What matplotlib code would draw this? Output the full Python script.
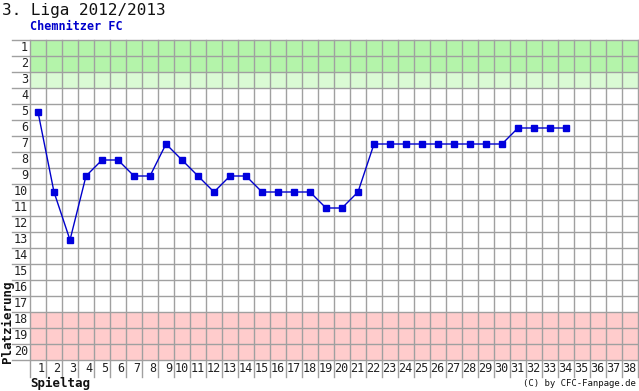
import numpy as np
import matplotlib
matplotlib.use("Agg")
import matplotlib.pyplot as plt
import matplotlib.transforms as mtransforms

# Chemnitzer FC, 3. Liga 2012/2013 - Platzierung je Spieltag
spieltage = list(range(1, 35))
platz = [5, 10, 13, 9, 8, 8, 9, 9, 7, 8, 9, 10, 9, 9, 10, 10, 10, 10, 11, 11,
         10, 7, 7, 7, 7, 7, 7, 7, 7, 7, 6, 6, 6, 6]
n_spieltage = 38
n_teams = 20
aufstieg = [1, 2]
relegation = [3]
abstieg = [18, 19, 20]

mono = "DejaVu Sans Mono"
grid_col = "#a0a0a0"

fig = plt.figure(figsize=(6.39, 3.91), dpi=100)
W, H = 639, 391
ax = fig.add_axes([30 / W, (H - 360) / H, 608 / W, 320 / H])

ax.set_xlim(0.5, n_spieltage + 0.5)
ax.set_ylim(n_teams + 0.5, 0.5)

# coloured rows
for p in aufstieg:
    ax.axhspan(p - 0.5, p + 0.5, color="#b4f4aa", lw=0, zorder=0)
for p in relegation:
    ax.axhspan(p - 0.5, p + 0.5, color="#dafad4", lw=0, zorder=0)
for p in abstieg:
    ax.axhspan(p - 0.5, p + 0.5, color="#ffcccc", lw=0, zorder=0)

# grid, extended into the label areas
trans_y = mtransforms.blended_transform_factory(ax.transAxes, ax.transData)
trans_x = mtransforms.blended_transform_factory(ax.transData, ax.transAxes)
for y in np.arange(0.5, n_teams + 1, 1):
    ax.plot([-18 / 608, 1], [y, y], transform=trans_y, color=grid_col, lw=1.0,
            clip_on=False, zorder=1)
for x in np.arange(0.5, n_spieltage + 1, 1):
    ax.plot([x, x], [-17 / 320, 1], transform=trans_x, color=grid_col, lw=1.0,
            clip_on=False, zorder=1)

# labels
for p in range(1, n_teams + 1):
    ax.text(-2 / 608, p, str(p), transform=trans_y, ha="right", va="center",
            fontsize=8.5, family=mono, color="#222222")
for s in range(1, n_spieltage + 1):
    ax.text(s + 0.42, -9 / 320, str(s), transform=trans_x, ha="right", va="center",
            fontsize=8.5, family=mono, color="#222222")

ax.plot(spieltage, platz, color="#0000cc", lw=1.0, marker="s", markersize=4,
        markerfacecolor="#0000dd", markeredgecolor="#0000dd", zorder=3)

ax.set_xticks([])
ax.set_yticks([])
for sp in ax.spines.values():
    sp.set_visible(False)

fig.text(2 / W, 1 - 11 / H, "3. Liga 2012/2013", ha="left", va="center",
         fontsize=11.5, family=mono, color="#111111")
fig.text(30 / W, 1 - 26 / H, "Chemnitzer FC", ha="left", va="center",
         fontsize=8.5, family=mono, weight="bold", color="#0000cc")
fig.text(7 / W, (H - 322) / H, "Platzierung", rotation=90, ha="center", va="center",
         fontsize=9, family=mono, weight="bold", color="#111111")
fig.text(30 / W, (H - 383) / H, "Spieltag", ha="left", va="center",
         fontsize=9, family=mono, weight="bold", color="#111111")
fig.text(636 / W, (H - 384) / H, "(C) by CFC-Fanpage.de", ha="right", va="center",
         fontsize=6.5, family=mono, color="#111111")

fig.savefig("out.png", dpi=100, facecolor="white")
